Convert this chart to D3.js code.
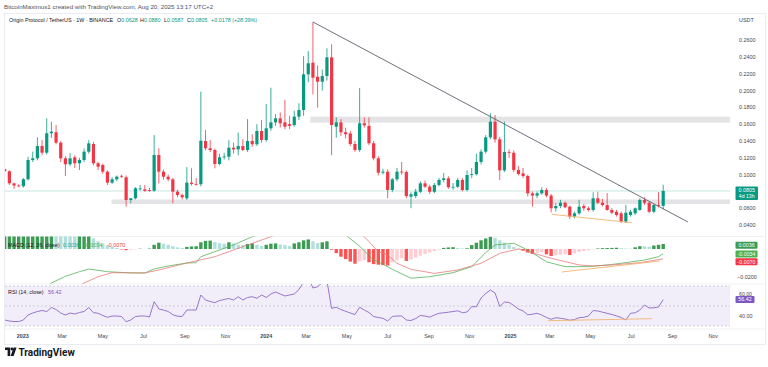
<!DOCTYPE html>
<html><head><meta charset="utf-8">
<script src="https://cdn.jsdelivr.net/npm/d3@7"></script>
<style>
html,body{margin:0;padding:0;background:#fff;}
svg{display:block;font-family:"Liberation Sans",Arial,sans-serif;}
</style></head><body>
<svg id="c" width="768" height="367"></svg>
<script>
// ---------- DATA (weekly candles from 2022-12-05) ----------
const firstWeek = "2022-12-05";
const opens = [
0.1065,0.1040,0.0896,0.0870,0.0862,0.0944,0.1174,0.1194,0.1340,0.1261,
0.1492,0.1504,0.1380,0.1194,0.1123,0.1206,0.1135,0.1174,0.1273,0.1364,
0.1135,0.1114,0.1035,0.0904,0.0944,0.0985,0.0968,0.0698,0.0718,0.0830,
0.0825,0.0815,0.0808,0.1233,0.1035,0.0975,0.0944,0.0797,0.0757,0.0718,
0.0904,0.0889,0.0885,0.1400,0.1313,0.1293,0.1126,0.1206,0.1213,0.1320,
0.1300,0.1340,0.1293,0.1400,0.1361,0.1519,0.1412,0.1551,0.1622,0.1670,
0.1622,0.1600,0.1590,0.1690,0.1769,0.2194,0.2332,0.2165,0.2106,0.2174,
0.2396,0.1570,0.1622,0.1504,0.1490,0.1364,0.1293,0.1611,0.1580,0.1373,
0.1194,0.1023,0.1035,0.0817,0.0944,0.1035,0.1030,0.0738,0.0745,0.0796,
0.0896,0.0856,0.0796,0.0876,0.0936,0.0956,0.0849,0.0855,0.0936,0.0817,
0.0995,0.1005,0.1150,0.1273,0.1444,0.1630,0.1420,0.1050,0.1270,0.1260,
0.1055,0.1015,0.0983,0.0777,0.0750,0.0777,0.0817,0.0750,0.0599,0.0626,
0.0665,0.0618,0.0499,0.0539,0.0626,0.0599,0.0579,0.0718,0.0665,0.0638,
0.0579,0.0558,0.0539,0.0439,0.0519,0.0539,0.0579,0.0698,0.0665,0.0558,
0.0640,0.0628];
const highs = [
0.1080,0.1050,0.0905,0.0885,0.0960,0.1213,0.1273,0.1444,0.1410,0.1670,
0.1630,0.1590,0.1400,0.1220,0.1257,0.1230,0.1200,0.1310,0.1410,0.1390,
0.1150,0.1130,0.1050,0.0970,0.0990,0.1000,0.0990,0.0720,0.0850,0.0876,
0.0876,0.0840,0.1470,0.1313,0.1060,0.1000,0.0960,0.0820,0.0775,0.1090,
0.1075,0.0960,0.1987,0.1531,0.1412,0.1310,0.1250,0.1260,0.1410,0.1380,
0.1500,0.1420,0.1660,0.1480,0.1600,0.1650,0.1840,0.2034,0.1720,0.1740,
0.1890,0.1700,0.1760,0.1850,0.2410,0.2470,0.2817,0.2300,0.2250,0.2503,
0.2550,0.1680,0.1660,0.1560,0.1520,0.1400,0.2030,0.1680,0.1680,0.1400,
0.1220,0.1070,0.1060,0.0960,0.1080,0.1150,0.1050,0.0790,0.0830,0.0920,
0.0930,0.0880,0.0900,0.0960,0.1020,0.0980,0.0900,0.0960,0.0960,0.1050,
0.1080,0.1250,0.1300,0.1470,0.1730,0.1710,0.1450,0.1630,0.1300,0.1290,
0.1100,0.1080,0.1000,0.0800,0.0800,0.0850,0.0840,0.0770,0.0660,0.0700,
0.0680,0.0630,0.0560,0.0700,0.0650,0.0620,0.0790,0.0796,0.0710,0.0780,
0.0600,0.0580,0.0560,0.0640,0.0580,0.0610,0.0720,0.0730,0.0680,0.0650,
0.0790,0.0880];
const lows = [
0.1030,0.0876,0.0830,0.0850,0.0845,0.0930,0.1150,0.1170,0.1230,0.1240,
0.1436,0.1360,0.1150,0.0983,0.1100,0.1080,0.1055,0.1150,0.1250,0.1110,
0.1055,0.1010,0.0876,0.0890,0.0920,0.0960,0.0618,0.0660,0.0705,0.0810,
0.0795,0.0795,0.0795,0.0895,0.0940,0.0920,0.0658,0.0730,0.0705,0.0698,
0.0870,0.0870,0.0860,0.1290,0.1269,0.1075,0.1110,0.1180,0.1170,0.1250,
0.1230,0.1280,0.1270,0.1330,0.1340,0.1380,0.1390,0.1520,0.1580,0.1560,
0.1540,0.1540,0.1570,0.1650,0.1700,0.2100,0.1956,0.1797,0.2000,0.2120,
0.1230,0.1440,0.1460,0.1430,0.1340,0.1270,0.1270,0.1560,0.1350,0.1170,
0.0990,0.1000,0.0718,0.0790,0.0920,0.1000,0.0718,0.0600,0.0720,0.0780,
0.0840,0.0770,0.0780,0.0860,0.0910,0.0830,0.0820,0.0840,0.0800,0.0800,
0.0960,0.0990,0.1120,0.1250,0.1420,0.1380,0.0936,0.1030,0.1200,0.1030,
0.0990,0.0960,0.0740,0.0618,0.0720,0.0760,0.0730,0.0550,0.0560,0.0600,
0.0600,0.0470,0.0480,0.0520,0.0570,0.0560,0.0560,0.0650,0.0620,0.0570,
0.0530,0.0500,0.0424,0.0424,0.0500,0.0520,0.0570,0.0640,0.0540,0.0540,
0.0610,0.0587];
const closes = [
0.1040,0.0896,0.0870,0.0862,0.0944,0.1174,0.1194,0.1340,0.1261,0.1492,
0.1511,0.1380,0.1194,0.1123,0.1194,0.1135,0.1174,0.1273,0.1372,0.1135,
0.1094,0.1035,0.0904,0.0944,0.0975,0.0975,0.0698,0.0718,0.0837,0.0835,
0.0808,0.0805,0.1233,0.1035,0.0975,0.0944,0.0797,0.0757,0.0730,0.0904,
0.0889,0.0885,0.1404,0.1313,0.1293,0.1126,0.1206,0.1215,0.1320,0.1300,
0.1340,0.1293,0.1400,0.1361,0.1519,0.1412,0.1551,0.1622,0.1670,0.1611,
0.1570,0.1580,0.1690,0.1769,0.2194,0.2325,0.2154,0.2106,0.2174,0.2396,
0.1590,0.1622,0.1504,0.1480,0.1364,0.1293,0.1611,0.1587,0.1373,0.1194,
0.1023,0.1035,0.0817,0.0944,0.1035,0.1030,0.0745,0.0765,0.0797,0.0896,
0.0856,0.0796,0.0876,0.0936,0.0956,0.0849,0.0855,0.0936,0.0817,0.0995,
0.1005,0.1150,0.1273,0.1444,0.1630,0.1420,0.1050,0.1270,0.1260,0.1055,
0.1007,0.0983,0.0777,0.0750,0.0777,0.0817,0.0750,0.0599,0.0626,0.0665,
0.0611,0.0499,0.0539,0.0618,0.0599,0.0579,0.0718,0.0665,0.0638,0.0579,
0.0546,0.0519,0.0439,0.0546,0.0558,0.0599,0.0698,0.0665,0.0558,0.0638,
0.0628,0.0805];

// MACD histogram (weekly)
const macdHist = [
0.0095,0.0098,0.0100,0.0103,0.0106,0.0112,0.0116,0.0120,0.0122,0.0125,
0.0127,0.0124,0.0118,0.0110,0.0102,0.0095,0.0098,0.0100,0.0102,0.0075,
0.0055,0.0040,0.0025,0.0015,0.0008,-0.0003,-0.0008,-0.0006,-0.0003,0.0002,
0.0001,0.0003,0.0030,0.0045,0.0038,0.0030,0.0020,0.0012,0.0008,0.0015,
0.0018,0.0020,0.0048,0.0058,0.0060,0.0050,0.0042,0.0038,0.0048,0.0040,
0.0032,0.0028,0.0036,0.0040,0.0030,0.0022,0.0030,0.0038,0.0040,0.0032,
0.0028,0.0022,0.0040,0.0048,0.0062,0.0068,0.0055,0.0042,0.0048,0.0055,
-0.0005,-0.0030,-0.0055,-0.0072,-0.0090,-0.0105,-0.0088,-0.0080,-0.0095,-0.0108,
-0.0112,-0.0115,-0.0118,-0.0095,-0.0080,-0.0065,-0.0085,-0.0075,-0.0062,-0.0048,
-0.0036,-0.0025,-0.0014,-0.0005,0.0008,0.0011,0.0013,0.0008,0.0004,0.0005,
0.0028,0.0045,0.0062,0.0075,0.0088,0.0080,0.0062,0.0045,0.0030,0.0015,
0.0003,-0.0010,-0.0025,-0.0035,-0.0028,-0.0022,-0.0038,-0.0050,-0.0045,-0.0040,
-0.0036,-0.0043,-0.0032,-0.0022,-0.0015,-0.0010,-0.0003,0.0004,0.0006,0.0007,
0.0008,0.0009,0.0006,0.0004,0.0003,0.0012,0.0020,0.0019,0.0017,0.0025,
0.0030,0.0036];

// MACD line and signal line, read at selected weeks (week number from first candle)
const macdWeeks = [0,4,8,10,13,16,18,22,27,30,32,35,39,41,42,49,53,58,64,67,70,73,76,79,80,83,87,91,96,100,103,105,109,112,116,120,125,129,132,137,140,141];
const macdValues = [-0.0420,-0.0360,-0.0300,-0.0243,-0.0195,-0.0162,-0.0143,-0.0162,-0.0171,-0.0171,-0.0143,-0.0121,-0.0100,-0.0098,-0.0055,0.0029,0.0088,0.0140,0.0220,0.0260,0.0250,0.0100,0.0020,-0.0079,-0.0091,-0.0145,-0.0209,-0.0198,-0.0169,-0.0126,-0.0026,0.0029,0.0041,-0.0007,-0.0091,-0.0126,-0.0126,-0.0114,-0.0102,-0.0079,-0.0055,-0.0034];
const signalWeeks = [0,8,17,20,23,30,33,39,45,49,57,64,68,72,77,80,82,84,87,92,97,102,106,110,112,117,123,126,130,136,141];
const signalValues = [-0.0520,-0.0420,-0.0243,-0.0198,-0.0169,-0.0171,-0.0150,-0.0100,-0.0055,-0.0007,0.0088,0.0170,0.0200,0.0180,0.0088,-0.0019,-0.0043,-0.0102,-0.0145,-0.0174,-0.0150,-0.0102,-0.0031,0.0000,-0.0019,-0.0066,-0.0114,-0.0121,-0.0114,-0.0098,-0.0070];

// RSI (14) weekly
const rsiValues = [
36,35,34.5,34.5,36,41,43,44.5,45.5,44.5,
48.5,46.5,43,41,43,42,43.5,44.5,48.5,43.3,
42.8,40.5,38.7,40,40,39.5,34.3,36,39.5,40,
40,39,54.3,47,46,44.5,41.3,39.8,39.5,46,
46,46,61,56,54.5,53.3,55.5,56.5,57.5,56,
59.3,56,58.5,59.3,57.7,61,58.5,62,64,62,
60,61,62,66.5,74,79,68,69.3,73.5,75,
47.7,48.7,46.5,44.7,43,41.5,48.7,46,43.5,39.5,
38.5,37.7,35,39.5,40,40,36,35.5,37.5,40.5,
40,38.8,41,42.7,43.2,43.8,44.5,45.2,43.3,44,
49.3,49.3,58,62.5,66,63,49.5,54,53.5,50.5,
47,45,41.2,41.8,42.7,41,38.5,36.7,38.3,37.7,
37,35.8,36.5,38.3,38.7,40,45.5,45,43.8,42.7,
41.5,40.2,38.5,36,42.7,43.2,46,51,48,48.2,
49,56.42];

// Drawings
const trendDates = ["2024-03-11","2025-09-24"];
const trendPrices = [0.2817, 0.0436];
const supportDates = ["2025-03-04","2025-07-02"];
const supportPrices = [0.0527, 0.0427];
const macdSupportDates = ["2025-03-19","2025-08-13"];
const macdSupportValues = [-0.0164, -0.0086];
const rsiSupportDates = ["2025-02-26","2025-08-01"];
const rsiSupportValues = [35.3, 37.3];
const zoneStarts = ["2023-05-14","2024-03-07"];
const zoneLows = [0.0650, 0.1618];
const zoneHighs = [0.0704, 0.1690];
const lastPrice = 0.0805;

// Axis ticks
const priceTicks = [0.04,0.06,0.10,0.12,0.14,0.16,0.18,0.20,0.22,0.24,0.26];
const timeTickDates = ["2023-01-01","2023-03-01","2023-05-01","2023-07-01","2023-09-01","2023-11-01","2024-01-01","2024-03-01","2024-05-01","2024-07-01","2024-09-01","2024-11-01","2025-01-01","2025-03-01","2025-05-01","2025-07-01","2025-09-01","2025-11-01"];
const timeTickLabels = ["2023","Mar","May","Jul","Sep","Nov","2024","Mar","May","Jul","Sep","Nov","2025","Mar","May","Jul","Sep","Nov"];

// ---------- CHART ----------
const svg = d3.select('#c');
const parse = d3.utcParse("%Y-%m-%d");
const start = parse(firstWeek);
const weekDate = i => d3.utcDay.offset(start, 7 * i);
const dates = opens.map((_, i) => weekDate(i));

const L = 5, R = 730;
const mainTop = 14, mainBot = 236.5, macdTop = 236.5, macdBot = 284, rsiTop = 284, rsiBot = 329;

const x = d3.scaleUtc().domain([dates[0], dates[dates.length - 1]]).range([4.7, 663.2]);
const yP = d3.scaleLinear().domain([0.04, 0.26]).range([225, 40.2]);
const yM = d3.scaleLinear().domain([0, -0.02]).range([249, 277]);
const yR = d3.scaleLinear().domain([30, 70]).range([326, 286]);

const UP = "#089981", DN = "#f23645";
const defs = svg.append("defs");
function clip(id, y0, y1) {
  defs.append("clipPath").attr("id", id).append("rect")
    .attr("x", L).attr("y", y0).attr("width", R - L).attr("height", y1 - y0);
}
clip("cMain", mainTop, mainBot); clip("cMacd", macdTop, macdBot); clip("cRsi", rsiTop, rsiBot);

svg.append("rect").attr("width", 768).attr("height", 367).attr("fill", "#fff");

// top credit
svg.append("text").attr("x", 4).attr("y", 8.5).attr("font-size", 6.2).attr("fill", "#50535e")
  .text("BitcoinMaximus1 created with TradingView.com, Aug 20, 2025 13:17 UTC+2");

// frame
svg.append("rect").attr("x", 4.5).attr("y", 13.5).attr("width", 761).attr("height", 331)
  .attr("fill", "none").attr("stroke", "#e6e8ee").attr("stroke-width", 0.8);
[macdTop, macdBot, rsiBot].forEach(yy => svg.append("line").attr("x1", 5).attr("x2", 765)
  .attr("y1", yy).attr("y2", yy).attr("stroke", "#eceef2").attr("stroke-width", 0.8));

// ---- main pane ----
const gMain = svg.append("g").attr("clip-path", "url(#cMain)");
zoneStarts.forEach((s, k) => {
  gMain.append("rect").attr("x", x(parse(s))).attr("width", R - x(parse(s)))
    .attr("y", yP(zoneHighs[k])).attr("height", yP(zoneLows[k]) - yP(zoneHighs[k]))
    .attr("fill", "#e4e4e6");
});
gMain.append("line").attr("x1", L).attr("x2", R).attr("y1", yP(lastPrice)).attr("y2", yP(lastPrice))
  .attr("stroke", UP).attr("stroke-opacity", 0.35).attr("stroke-width", 0.7);

const cg = gMain.selectAll("g.c").data(dates).join("g");
cg.append("line").attr("x1", d => x(d)).attr("x2", d => x(d))
  .attr("y1", (d, i) => yP(highs[i])).attr("y2", (d, i) => yP(lows[i]))
  .attr("stroke", (d, i) => closes[i] >= opens[i] ? UP : DN).attr("stroke-width", 0.8);
cg.append("rect").attr("x", d => x(d) - 1.6).attr("width", 3.2)
  .attr("y", (d, i) => yP(Math.max(opens[i], closes[i])))
  .attr("height", (d, i) => Math.max(0.8, Math.abs(yP(opens[i]) - yP(closes[i]))))
  .attr("fill", (d, i) => closes[i] >= opens[i] ? UP : DN);

gMain.append("line").attr("x1", x(parse(trendDates[0]))).attr("y1", yP(trendPrices[0]))
  .attr("x2", x(parse(trendDates[1]))).attr("y2", yP(trendPrices[1]))
  .attr("stroke", "#5d606b").attr("stroke-width", 0.9);
gMain.append("line").attr("x1", x(parse(supportDates[0]))).attr("y1", yP(supportPrices[0]))
  .attr("x2", x(parse(supportDates[1]))).attr("y2", yP(supportPrices[1]))
  .attr("stroke", "#f0b46e").attr("stroke-width", 0.9);

// title legend
const t = svg.append("text").attr("y", 21.5).attr("font-size", 5.4).attr("fill", "#131722");
t.append("tspan").attr("x", 9).text("Origin Protocol / TetherUS · 1W · BINANCE");
const ohlc = [["O", "0.0628", 117], ["H", "0.0880", 140], ["L", "0.0587", 164], ["C", "0.0805", 187]];
ohlc.forEach(o => { t.append("tspan").attr("x", o[2]).text(o[0]); t.append("tspan").attr("fill", UP).text(o[1]); });
t.append("tspan").attr("x", 211).attr("fill", UP).text("+0.0178 (+28.39%)");

// price axis
svg.append("text").attr("x", 739).attr("y", 21.5).attr("font-size", 5.4).attr("fill", "#434651").text("USDT");
svg.selectAll("text.pt").data(priceTicks).join("text").attr("class", "pt")
  .attr("x", 739).attr("y", d => yP(d) + 2).attr("font-size", 5.4).attr("fill", "#434651")
  .text(d => d3.format(".4f")(d));
svg.append("rect").attr("x", 735.5).attr("y", 186.5).attr("width", 22.5).attr("height", 13.5).attr("rx", 1).attr("fill", UP);
svg.append("text").attr("x", 746.7).attr("y", 192.3).attr("text-anchor", "middle").attr("font-size", 5.4).attr("fill", "#fff").text(d3.format(".4f")(lastPrice));
svg.append("text").attr("x", 746.7).attr("y", 198.3).attr("text-anchor", "middle").attr("font-size", 5.2).attr("fill", "#fff").text("4d 13h");

// ---- MACD pane ----
const gM = svg.append("g").attr("clip-path", "url(#cMacd)");
const histColor = (v, i) => {
  const p = i > 0 ? macdHist[i - 1] : v;
  if (v >= 0) return v >= p ? "#3d9c53" : "#b2dfdb";
  return v <= p ? "#ff5252" : "#ffcdd2";
};
gM.selectAll("rect").data(macdHist).join("rect")
  .attr("x", (v, i) => x(dates[i]) - 1.7).attr("width", 3.4)
  .attr("y", v => Math.min(yM(v), yM(0))).attr("height", v => Math.abs(yM(v) - yM(0)))
  .attr("fill", histColor);
const lineM = d3.line().x(d => x(weekDate(d[0]))).y(d => yM(d[1]));
gM.append("path").attr("d", lineM(macdWeeks.map((w, k) => [w, macdValues[k]])))
  .attr("fill", "none").attr("stroke", "#4caf50").attr("stroke-width", 0.75);
gM.append("path").attr("d", lineM(signalWeeks.map((w, k) => [w, signalValues[k]])))
  .attr("fill", "none").attr("stroke", "#e57373").attr("stroke-width", 0.75);
gM.append("line").attr("x1", x(parse(macdSupportDates[0]))).attr("y1", yM(macdSupportValues[0]))
  .attr("x2", x(parse(macdSupportDates[1]))).attr("y2", yM(macdSupportValues[1]))
  .attr("stroke", "#f0b46e").attr("stroke-width", 0.9);

const mt = svg.append("text").attr("x", 8).attr("y", 246.5).attr("font-size", 5.4).attr("fill", "#131722");
mt.append("tspan").text("MACD (12, 26, close)");
mt.append("tspan").attr("x", 63).attr("fill", "#26a69a").text("0.0036");
mt.append("tspan").attr("x", 84).attr("fill", "#4caf50").text("-0.0034");
mt.append("tspan").attr("x", 107).attr("fill", "#f23645").text("-0.0070");

const mLabels = [["0.0036", 241.7, "#3d9c53"], ["-0.0034", 250.5, "#4caf50"], ["-0.0070", 258.3, "#f23645"]];
mLabels.forEach(m => {
  svg.append("rect").attr("x", 735.5).attr("y", m[1]).attr("width", 22).attr("height", 7).attr("rx", 1).attr("fill", m[2]);
  svg.append("text").attr("x", 746.5).attr("y", m[1] + 5.3).attr("text-anchor", "middle").attr("font-size", 5.3).attr("fill", "#fff").text(m[0]);
});
svg.append("text").attr("x", 737).attr("y", yM(-0.02) + 2).attr("font-size", 5.4).attr("fill", "#434651").text(d3.format(".4f")(-0.02));

// ---- RSI pane ----
const gR = svg.append("g").attr("clip-path", "url(#cRsi)");
gR.append("rect").attr("x", L).attr("width", R - L).attr("y", yR(70)).attr("height", yR(30) - yR(70))
  .attr("fill", "#7e57c2").attr("fill-opacity", 0.1);
[70, 50, 30].forEach(v => gR.append("line").attr("x1", L).attr("x2", R).attr("y1", yR(v)).attr("y2", yR(v))
  .attr("stroke", "#787b86").attr("stroke-opacity", 0.5).attr("stroke-width", 0.6).attr("stroke-dasharray", "2,2"));
gR.append("path").attr("d", d3.line().x((v, i) => x(dates[i])).y(v => yR(v))(rsiValues))
  .attr("fill", "none").attr("stroke", "#7e57c2").attr("stroke-width", 0.8);
gR.append("line").attr("x1", x(parse(rsiSupportDates[0]))).attr("y1", yR(rsiSupportValues[0]))
  .attr("x2", x(parse(rsiSupportDates[1]))).attr("y2", yR(rsiSupportValues[1]))
  .attr("stroke", "#f0b46e").attr("stroke-width", 0.9);

const rt = svg.append("text").attr("x", 8).attr("y", 293.5).attr("font-size", 5.4).attr("fill", "#131722");
rt.append("tspan").text("RSI (14, close)");
rt.append("tspan").attr("x", 48).attr("fill", "#7e57c2").text("56.42");
const lastRsi = rsiValues[rsiValues.length - 1];
svg.append("text").attr("x", 739).attr("y", yR(lastRsi) - 3.9).attr("font-size", 5.2).attr("fill", "#434651").text(d3.format(".2f")(60));
svg.append("text").attr("x", 739).attr("y", yR(40) + 2).attr("font-size", 5.4).attr("fill", "#434651").text(d3.format(".2f")(40));
svg.append("rect").attr("x", 735.5).attr("y", yR(lastRsi) - 3.5).attr("width", 19).attr("height", 7).attr("rx", 1).attr("fill", "#7e57c2");
svg.append("text").attr("x", 745).attr("y", yR(lastRsi) + 1.9).attr("text-anchor", "middle").attr("font-size", 5.3).attr("fill", "#fff").text("56.42");

// ---- time axis ----
svg.selectAll("text.tt").data(timeTickDates).join("text").attr("class", "tt")
  .attr("x", d => x(parse(d))).attr("y", 338).attr("text-anchor", "middle").attr("font-size", 5.4)
  .attr("font-weight", (d, i) => /^\d+$/.test(timeTickLabels[i]) ? "bold" : "normal")
  .attr("fill", "#434651").text((d, i) => timeTickLabels[i]);

// ---- TradingView logo ----
const lg = svg.append("g").attr("fill", "#131722");
lg.append("path").attr("d", "M5,347.5 H10.2 V356 H7.6 V350 H5 Z");
lg.append("circle").attr("cx", 11.9).attr("cy", 349).attr("r", 1.4);
lg.append("path").attr("d", "M13.6,347.5 H16.6 L13.6,356 H10.6 Z");
svg.append("text").attr("x", 18.5).attr("y", 356).attr("font-size", 10).attr("font-weight", "bold")
  .attr("fill", "#131722").attr("font-family", "Roboto, 'Liberation Sans', Arial, sans-serif").text("TradingView");
</script>
</body></html>
